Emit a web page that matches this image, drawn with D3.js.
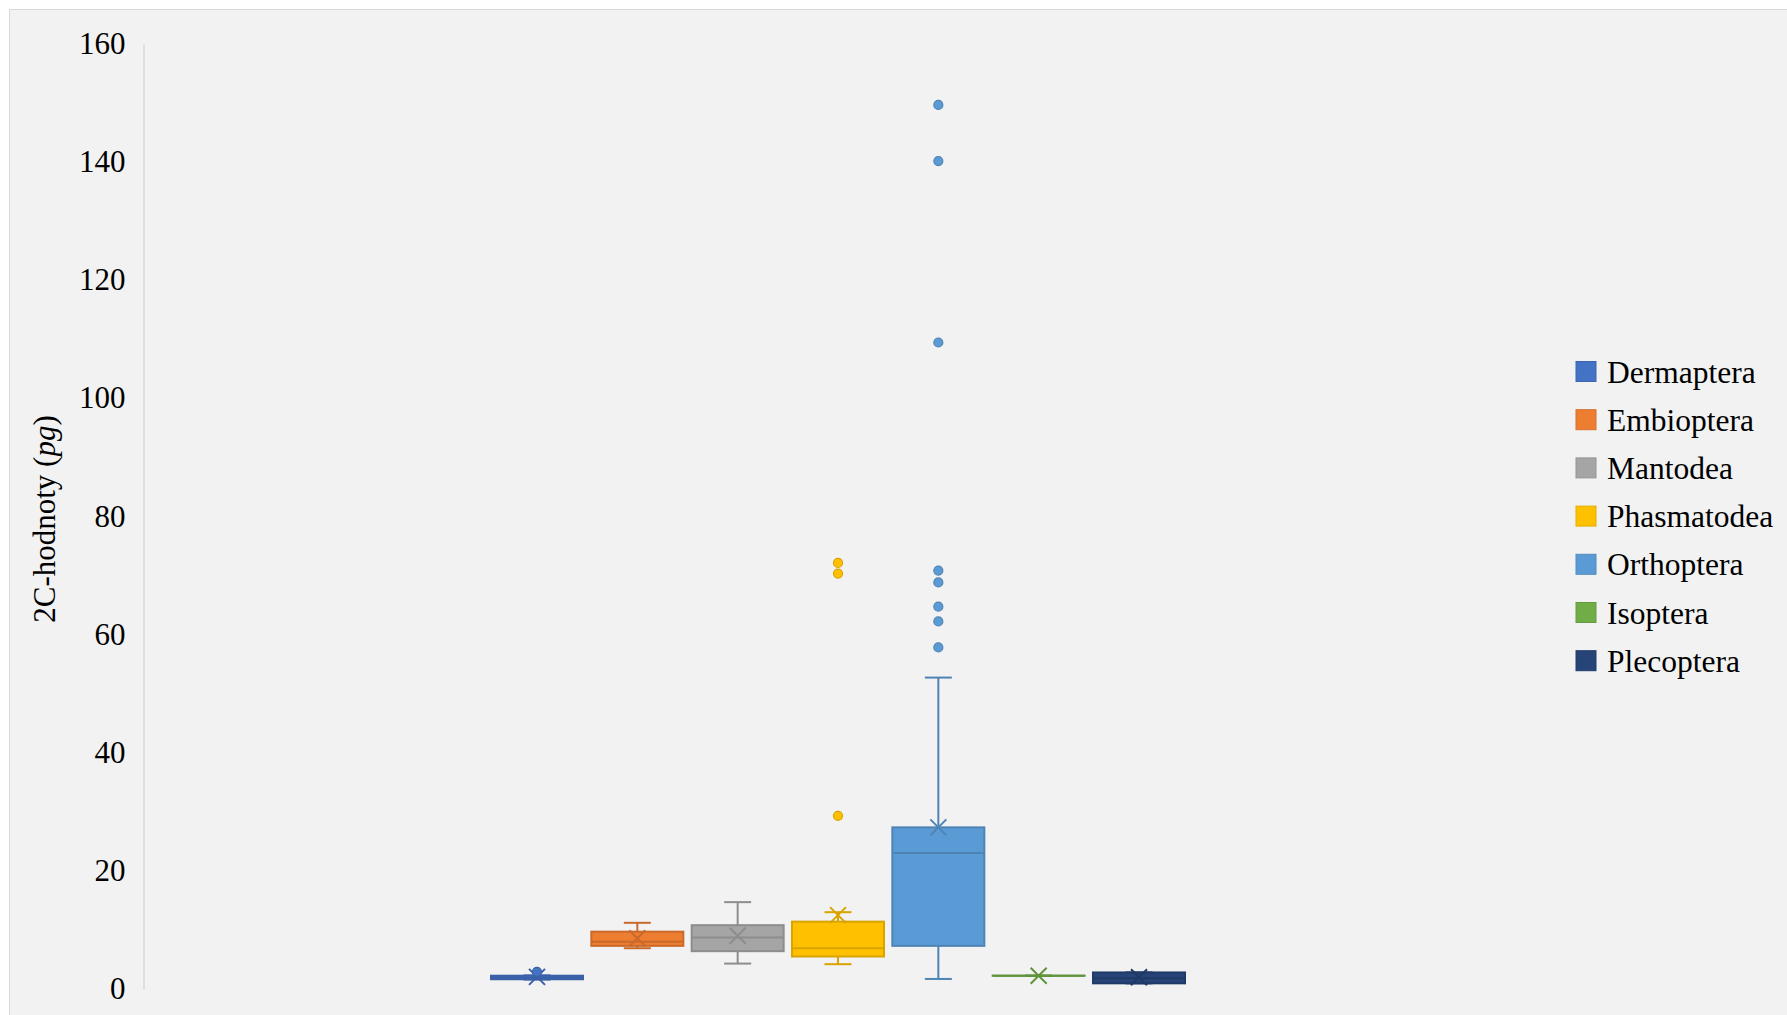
<!DOCTYPE html>
<html>
<head>
<meta charset="utf-8">
<script src="https://cdn.jsdelivr.net/npm/d3@7"></script>
<style>
  html, body { margin: 0; padding: 0; background: #ffffff; }
  svg { display: block; }
  text { font-family: "Liberation Serif", "Times New Roman", serif; fill: #000; }
</style>
</head>
<body>
<svg id="chart" width="1787" height="1015"></svg>
<script>
// ---- data ----
const categories = ["Dermaptera", "Embioptera", "Mantodea", "Phasmatodea", "Orthoptera", "Isoptera", "Plecoptera"];
const colors     = ["#4472C4", "#ED7D31", "#A5A5A5", "#FFC000", "#5B9BD5", "#70AD47", "#264478"];
const mins       = [1.6,  6.9,  4.3,  4.2,  1.7,  2.25, 0.96];
const q1s        = [1.65, 7.3,  6.4,  5.5,  7.3,  2.25, 0.96];
const medians    = [1.9,  8.0,  8.7,  6.9,  23.0, 2.25, 1.8];
const q3s        = [2.25, 9.7,  10.8, 11.4, 27.35, 2.25, 2.8];
const maxs       = [2.3,  11.2, 14.7, 13.0, 52.7, 2.25, 2.8];
const means      = [2.05, 8.6,  9.0,  12.5, 27.35, 2.25, 2.0];
const outliers   = [[2.9], [], [], [29.3, 70.3, 72.1], [57.8, 62.2, 64.7, 68.8, 70.8, 109.4, 140.1, 149.6], [], []];
const yTicks     = [0, 20, 40, 60, 80, 100, 120, 140, 160];
const yTitle     = "2C-hodnoty";
const yUnit      = "pg";

// ---- layout ----
const svg = d3.select("#chart");
const W = 1787, H = 1015;

svg.append("rect")
  .attr("x", 9.5).attr("y", 9.5)
  .attr("width", W + 20).attr("height", H + 20)
  .attr("fill", "#f2f2f2").attr("stroke", "#d9d9d9").attr("stroke-width", 1);

const y = d3.scaleLinear().domain([0, 160]).range([989, 43.5]);
const x = d3.scalePoint().domain(categories).range([537, 1139]);
const boxW = 92, capW = 27;

// y axis
const yAxis = d3.axisLeft(y).tickValues(yTicks).tickSize(0).tickPadding(18);
const gy = svg.append("g").attr("transform", "translate(143.5,0)").call(yAxis);
gy.select(".domain").attr("stroke", "#d9d9d9").attr("stroke-width", 1.5);
gy.selectAll(".tick text")
  .attr("font-family", "'Liberation Serif', 'Times New Roman', serif")
  .attr("font-size", 31).attr("fill", "#000");

// y title
const t = svg.append("text")
  .attr("transform", "translate(55,519) rotate(-90)")
  .attr("text-anchor", "middle")
  .attr("font-size", 31);
t.append("tspan").text(yTitle + " (");
t.append("tspan").attr("font-style", "italic").text(yUnit);
t.append("tspan").text(")");

// boxes
const data = categories.map((c, i) => ({
  c, color: colors[i], min: mins[i], q1: q1s[i], med: medians[i], q3: q3s[i],
  max: maxs[i], mean: means[i], out: outliers[i]
}));

const g = svg.append("g");
data.forEach(d => {
  const cx = x(d.c);
  const stroke = d3.color(d.color).darker(0.45).formatHex();
  const gg = g.append("g");
  // whiskers
  gg.append("line").attr("x1", cx).attr("x2", cx).attr("y1", y(d.q3)).attr("y2", y(d.max))
    .attr("stroke", stroke).attr("stroke-width", 2);
  gg.append("line").attr("x1", cx).attr("x2", cx).attr("y1", y(d.q1)).attr("y2", y(d.min))
    .attr("stroke", stroke).attr("stroke-width", 2);
  [d.max, d.min].forEach(v => {
    gg.append("line").attr("x1", cx - capW / 2).attr("x2", cx + capW / 2)
      .attr("y1", y(v)).attr("y2", y(v))
      .attr("stroke", stroke).attr("stroke-width", 2);
  });
  // box
  const top = y(d.q3), bot = y(d.q1);
  gg.append("rect")
    .attr("x", cx - boxW / 2).attr("width", boxW)
    .attr("y", top).attr("height", Math.max(bot - top, 0.01))
    .attr("fill", d.color).attr("stroke", stroke).attr("stroke-width", 2);
  // median
  gg.append("line").attr("x1", cx - boxW / 2).attr("x2", cx + boxW / 2)
    .attr("y1", y(d.med)).attr("y2", y(d.med))
    .attr("stroke", stroke).attr("stroke-width", 2);
  // mean marker
  const m = 8, my = y(d.mean);
  gg.append("path")
    .attr("d", `M${cx - m},${my - m}L${cx + m},${my + m}M${cx - m},${my + m}L${cx + m},${my - m}`)
    .attr("stroke", stroke).attr("stroke-width", 2).attr("fill", "none");
  // outliers
  gg.selectAll("circle").data(d.out).join("circle")
    .attr("cx", cx).attr("cy", v => y(v)).attr("r", 4.5)
    .attr("fill", d.color).attr("stroke", stroke).attr("stroke-width", 1.2);
});

// legend
const legendY = d3.scalePoint().domain(categories).range([371.5, 660.7]);
const lg = svg.append("g");
data.forEach(d => {
  const cy = legendY(d.c);
  lg.append("rect").attr("x", 1576).attr("y", cy - 10).attr("width", 20).attr("height", 20)
    .attr("fill", d.color).attr("stroke", d3.color(d.color).darker(0.3).formatHex()).attr("stroke-width", 1);
  lg.append("text").attr("x", 1607).attr("y", cy + 11).attr("font-size", 31.5).text(d.c);
});
</script>
</body>
</html>
